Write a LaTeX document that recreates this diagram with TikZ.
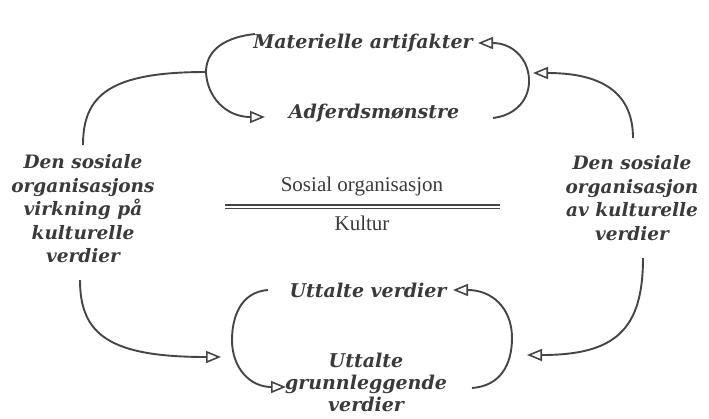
\documentclass[tikz,border=0pt]{standalone}
\usepackage{fontspec}
\setmainfont{Liberation Serif}
\newfontfamily\labelfont{DejaVu Serif}
\usetikzlibrary{arrows.meta}
\definecolor{ink}{HTML}{3A3A3A}
\definecolor{wire}{HTML}{454545}
\tikzset{
  lbl/.style={text=ink, font=\labelfont\fontsize{19}{23}\selectfont\bfseries\itshape, inner sep=0pt, align=center},
  sidelbl/.style={lbl, font=\labelfont\fontsize{18.5}{23.5}\selectfont\bfseries\itshape},
  plain/.style={text=ink, font=\fontsize{21}{23}\selectfont, inner sep=0pt},
  conn/.style={draw=wire, line width=1.9pt},
  arr/.style={conn, -{Triangle[open, length=15pt, width=12pt, line width=1.6pt]}},
}
\begin{document}
\begin{tikzpicture}[x=1pt,y=-1pt]
\useasboundingbox (0,0) rectangle (709,418);
% text nodes
\node[lbl] (mat) at (363,43) {Materielle artifakter};
\node[lbl] (adf) at (374,113) {Adferdsmønstre};
\node[sidelbl] (ltxt) at (83,209) {Den sosiale\\organisasjons\\virkning på\\kulturelle\\verdier};
\node[sidelbl] (rtxt) at (632,198) {Den sosiale\\organisasjon\\av kulturelle\\verdier};
\node[plain] (sos) at (362,186) {Sosial organisasjon};
\node[plain] (kul) at (362,223) {Kultur};
\node[lbl] (utt) at (368,290) {Uttalte verdier};
\node[lbl, font=\labelfont\fontsize{19}{22}\selectfont\bfseries\itshape] (uutt) at (366,382) {Uttalte\\grunnleggende\\verdier};
% connector endpoints
\coordinate (tlS) at (255,34);
\coordinate (tlL) at (206,72);
\coordinate (tlE) at (265,117);
\coordinate (trS) at (493,118);
\coordinate (trE) at (478,43);
\coordinate (ltTop) at (83,145);
\coordinate (lbS) at (80,280);
\coordinate (lbE) at (221,357);
\coordinate (blS) at (268,290);
\coordinate (blE) at (286,387);
\coordinate (brS) at (472,388);
\coordinate (brE) at (453,290);
\coordinate (rtS) at (633,138);
\coordinate (rtE) at (533,73);
\coordinate (rbS) at (643,258);
\coordinate (rbE) at (527,355);
% top loops
\draw[arr] (tlS) .. controls (218,38) and (206,55) .. (tlL) .. controls (207,97) and (226,117) .. (tlE);
\draw[arr] (trS) .. controls (518,115) and (530,97) .. (529,79) .. controls (528,58) and (512,43) .. (trE);
% left connectors
\draw[conn] (tlL) .. controls (110,72) and (83,95) .. (ltTop);
\draw[arr] (lbS) .. controls (80,335) and (110,357) .. (lbE);
% bottom loops
\draw[arr] (blS) .. controls (240,292) and (232,318) .. (232,340) .. controls (232,368) and (250,387) .. (blE);
\draw[arr] (brS) .. controls (500,386) and (512,365) .. (512,338) .. controls (512,308) and (492,290) .. (brE);
% right connectors
\draw[arr] (rtS) .. controls (633,95) and (605,73) .. (rtE);
\draw[arr] (rbS) .. controls (643,330) and (615,355) .. (rbE);
% divider
\coordinate (dl) at (225,205);
\coordinate (dr) at (500,205);
\draw[draw=wire, line width=1.1pt] (dl) -- (dr);
\draw[draw=wire, line width=1.1pt] ([yshift=-3.5pt]dl) -- ([yshift=-3.5pt]dr);
\end{tikzpicture}
\end{document}
